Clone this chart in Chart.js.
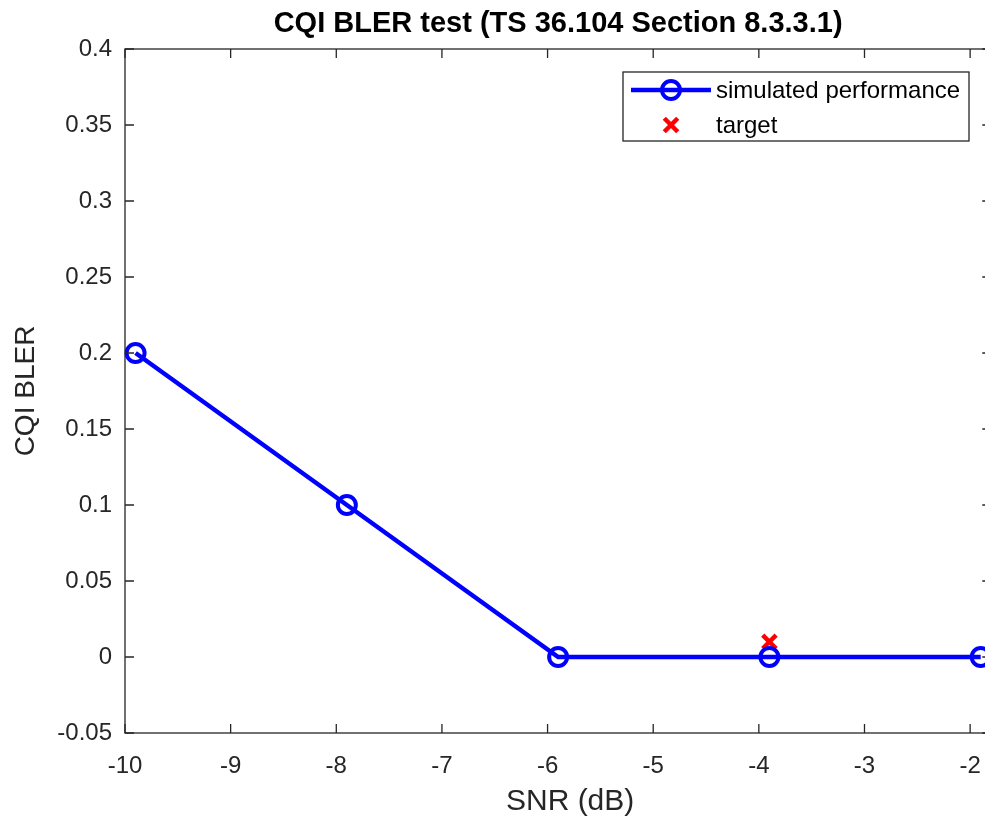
<!DOCTYPE html>
<html>
<head>
<meta charset="utf-8">
<script src="https://cdn.jsdelivr.net/npm/chart.js@4"></script>
<style>
  html, body { margin: 0; padding: 0; background: #fff; overflow: hidden; }
  #wrap { width: 1000px; height: 823px; }
</style>
</head>
<body>
<div id="wrap"><canvas id="cqi"></canvas></div>
<script>
// values
const snrDb = [-9.9, -7.9, -5.9, -3.9, -1.9];
const cqiBler = [0.2, 0.1, 0, 0, 0];
const targetSnr = [-3.9];
const targetBler = [0.01];
const xTicks = [-10, -9, -8, -7, -6, -5, -4, -3, -2];
const yTicks = [-0.05, 0, 0.05, 0.1, 0.15, 0.2, 0.25, 0.3, 0.35, 0.4];

const axisGray = '#262626';
const fontFamily = '"Liberation Sans", Arial, Helvetica, sans-serif';

// box, inward ticks, title, axis titles, legend (MATLAB look)
const matlabAxes = {
    id: 'matlabAxes',
    afterDraw(chart) {
        const ctx = chart.ctx;
        const a = chart.chartArea;
        const xs = chart.scales.x, ys = chart.scales.y;
        ctx.save();
        ctx.strokeStyle = axisGray;
        ctx.lineWidth = 1.3;
        ctx.strokeRect(a.left, a.top, a.right - a.left, a.bottom - a.top);
        const tl = 9;
        ctx.beginPath();
        xTicks.forEach(v => {
            const px = xs.getPixelForValue(v);
            ctx.moveTo(px, a.bottom); ctx.lineTo(px, a.bottom - tl);
            ctx.moveTo(px, a.top); ctx.lineTo(px, a.top + tl);
        });
        yTicks.forEach(v => {
            const py = ys.getPixelForValue(v);
            ctx.moveTo(a.left, py); ctx.lineTo(a.left + tl, py);
            ctx.moveTo(a.right, py); ctx.lineTo(a.right - tl, py);
        });
        ctx.stroke();

        // title
        const cx = (a.left + a.right) / 2;
        ctx.fillStyle = '#000';
        ctx.font = 'bold 29px ' + fontFamily;
        ctx.textAlign = 'center';
        ctx.textBaseline = 'middle';
        ctx.fillText('CQI BLER test (TS 36.104 Section 8.3.3.1)', cx, 24);

        // axis titles
        ctx.fillStyle = axisGray;
        ctx.font = '30px ' + fontFamily;
        ctx.fillText('SNR (dB)', cx + 12, 802);
        ctx.font = '28px ' + fontFamily;
        ctx.save();
        ctx.translate(26, (a.top + a.bottom) / 2);
        ctx.rotate(-Math.PI / 2);
        ctx.fillText('CQI BLER', 0, 0);
        ctx.restore();

        // legend box
        const lx = 623, ly = 72, lw = 346, lh = 69;
        ctx.fillStyle = '#fff';
        ctx.fillRect(lx, ly, lw, lh);
        ctx.strokeStyle = axisGray;
        ctx.lineWidth = 1.3;
        ctx.strokeRect(lx, ly, lw, lh);

        const ds0 = chart.data.datasets[0];
        const ds1 = chart.data.datasets[1];
        const row1 = ly + 18, row2 = ly + 53, mx = lx + 48;
        ctx.strokeStyle = ds0.borderColor;
        ctx.lineWidth = ds0.borderWidth;
        ctx.beginPath();
        ctx.moveTo(lx + 8, row1); ctx.lineTo(lx + 88, row1);
        ctx.stroke();
        ctx.lineWidth = ds0.pointBorderWidth;
        ctx.beginPath();
        ctx.arc(mx, row1, ds0.pointRadius, 0, Math.PI * 2);
        ctx.stroke();

        ctx.strokeStyle = ds1.pointBorderColor;
        ctx.lineWidth = ds1.pointBorderWidth;
        const r = ds1.pointRadius * 0.707;
        ctx.beginPath();
        ctx.moveTo(mx - r, row2 - r); ctx.lineTo(mx + r, row2 + r);
        ctx.moveTo(mx + r, row2 - r); ctx.lineTo(mx - r, row2 + r);
        ctx.stroke();

        ctx.fillStyle = '#000';
        ctx.font = '24px ' + fontFamily;
        ctx.textAlign = 'left';
        ctx.fillText(ds0.label, lx + 93, row1 + 1);
        ctx.fillText(ds1.label, lx + 93, row2 + 1);
        ctx.restore();
    }
};

new Chart(document.getElementById('cqi'), {
    type: 'scatter',
    data: {
        datasets: [
            {
                label: 'simulated performance',
                data: snrDb.map((x, i) => ({ x: x, y: cqiBler[i] })),
                showLine: true,
                borderColor: '#0000ff',
                borderWidth: 4.5,
                pointStyle: 'circle',
                pointRadius: 9,
                pointBorderWidth: 4,
                pointBorderColor: '#0000ff',
                pointBackgroundColor: 'rgba(0,0,0,0)',
                clip: false
            },
            {
                label: 'target',
                data: targetSnr.map((x, i) => ({ x: x, y: targetBler[i] })),
                pointStyle: 'crossRot',
                pointRadius: 9.5,
                pointBorderWidth: 4.5,
                pointBorderColor: '#ff0000',
                pointBackgroundColor: '#ff0000',
                clip: false
            }
        ]
    },
    options: {
        responsive: true,
        maintainAspectRatio: false,
        animation: false,
        layout: { autoPadding: false, padding: { top: 49, right: 8, left: 0, bottom: 0 } },
        plugins: {
            legend: { display: false },
            title: { display: false },
            tooltip: { enabled: false }
        },
        scales: {
            x: {
                type: 'linear',
                min: -10,
                max: -1.8,
                grid: { display: false, drawTicks: false },
                border: { display: false },
                afterFit(scale) { scale.height = 90; },
                afterBuildTicks(scale) { scale.ticks = xTicks.map(v => ({ value: v })); },
                ticks: {
                    includeBounds: false,
                    padding: 19,
                    color: axisGray,
                    font: { family: fontFamily, size: 24 },
                    maxRotation: 0,
                    callback: v => String(v)
                }
            },
            y: {
                type: 'linear',
                min: -0.05,
                max: 0.4,
                grid: { display: false, drawTicks: false },
                border: { display: false },
                afterFit(scale) { scale.width = 125; },
                afterBuildTicks(scale) { scale.ticks = yTicks.map(v => ({ value: v })); },
                ticks: {
                    padding: 13,
                    color: axisGray,
                    font: { family: fontFamily, size: 24 },
                    callback: v => String(Number(v.toFixed(2)))
                }
            }
        }
    },
    plugins: [matlabAxes]
});
</script>
</body>
</html>
